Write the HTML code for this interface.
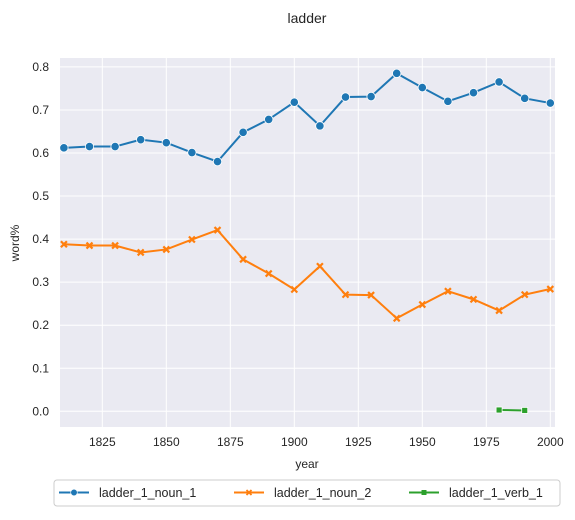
<!DOCTYPE html>
<html><head><meta charset="utf-8"><style>
body{margin:0;background:#fff;font-family:"Liberation Sans",Arial,sans-serif}
svg text{font-family:"Liberation Sans",Arial,sans-serif;fill:#262626}
</style></head><body>
<svg id="c" width="575" height="515"></svg>
<script>
const years=[1810,1820,1830,1840,1850,1860,1870,1880,1890,1900,1910,1920,1930,1940,1950,1960,1970,1980,1990,2000];
const noun1=[.612,.615,.615,.631,.624,.601,.580,.648,.678,.718,.663,.730,.731,.785,.752,.720,.740,.765,.727,.716];
const noun2=[.388,.385,.385,.369,.376,.399,.421,.353,.320,.283,.337,.271,.270,.216,.248,.279,.260,.234,.271,.284];
const verbYears=[1980,1990];
const verb1=[.003,.002];
const xTicks=[1825,1850,1875,1900,1925,1950,1975,2000];
const yTicks=[0,0.1,0.2,0.3,0.4,0.5,0.6,0.7,0.8];
const NS="http://www.w3.org/2000/svg",svg=document.getElementById('c');
const L=60,R=555,T=58,B=427;
const x=v=>102.3+(v-1825)*2.56, y=v=>411.3-v*430.5;
function el(t,a,p){const e=document.createElementNS(NS,t);for(const k in a)e.setAttribute(k,a[k]);(p||svg).appendChild(e);return e;}
let bg=el('rect',{x:L,y:T,width:R-L,height:B-T,fill:'#eaeaf2'});


xTicks.forEach(t=>{let g=el('line',{x1:x(t),x2:x(t),y1:T,y2:B,stroke:'#fff','stroke-width':1});


let tx=el('text',{x:x(t),y:446,'font-size':12,'text-anchor':'middle'});tx.textContent=t;

});
yTicks.forEach(t=>{let g=el('line',{x1:L,x2:R,y1:y(t),y2:y(t),stroke:'#fff','stroke-width':1});


let tx=el('text',{x:49,y:y(t)+4,'font-size':12,'text-anchor':'end'});tx.textContent=t.toFixed(1);

});
function series(xs,vs,color,marker,name){
 const g=el('g',{});
 
 
 el('polyline',{points:xs.map((v,i)=>x(v)+','+y(vs[i])).join(' '),fill:'none',stroke:color,'stroke-width':2},g);
 xs.forEach((v,i)=>{let m;const cx=x(v),cy=y(vs[i]);
  if(marker==='o')m=el('circle',{cx,cy,r:4.2,fill:color,stroke:'#fff','stroke-width':0.8},g);
  else if(marker==='x')m=el('path',{d:`M${cx-3},${cy-3}L${cx+3},${cy+3}M${cx-3},${cy+3}L${cx+3},${cy-3}`,stroke:color,'stroke-width':2.2},g);
  else m=el('rect',{x:cx-3,y:cy-3,width:6,height:6,fill:color,stroke:'#fff','stroke-width':0.8},g);
  
  });
}
series(years,noun1,'#1f77b4','o','series-ladder-1-noun-1');
series(years,noun2,'#ff7f0e','x','series-ladder-1-noun-2');
series(verbYears,verb1,'#2ca02c','s','series-ladder-1-verb-1');
let t=el('text',{x:307,y:23,'font-size':14,'text-anchor':'middle'});t.textContent='ladder';


t=el('text',{x:307,y:468,'font-size':12,'text-anchor':'middle'});t.textContent='year';


t=el('text',{x:19,y:243,'font-size':12,'text-anchor':'middle',transform:'rotate(-90 19 243)'});t.textContent='word%';


const lg=el('g',{});


el('rect',{x:54,y:480,width:506,height:26,rx:3,fill:'#fff',stroke:'#ccc'},lg);
[['ladder_1_noun_1','#1f77b4','o',59],['ladder_1_noun_2','#ff7f0e','x',234],['ladder_1_verb_1','#2ca02c','s',409]].forEach(([n,c,m,lx])=>{
 const cy=492.5;const g=el('g',{},lg);
 
 
 el('line',{x1:lx,x2:lx+30,y1:cy,y2:cy,stroke:c,'stroke-width':2},g);
 const cx=lx+15;
 if(m==='o')el('circle',{cx,cy,r:3.3,fill:c,stroke:'#fff','stroke-width':.6},g);
 else if(m==='x')el('path',{d:`M${cx-2.5},${cy-2.5}L${cx+2.5},${cy+2.5}M${cx-2.5},${cy+2.5}L${cx+2.5},${cy-2.5}`,stroke:c,'stroke-width':1.8},g);
 else el('rect',{x:cx-2.5,y:cy-2.5,width:5,height:5,fill:c},g);
 const tx=el('text',{x:lx+40,y:cy+4.5,'font-size':12.5},g);tx.textContent=n;});
</script>
</body></html>
